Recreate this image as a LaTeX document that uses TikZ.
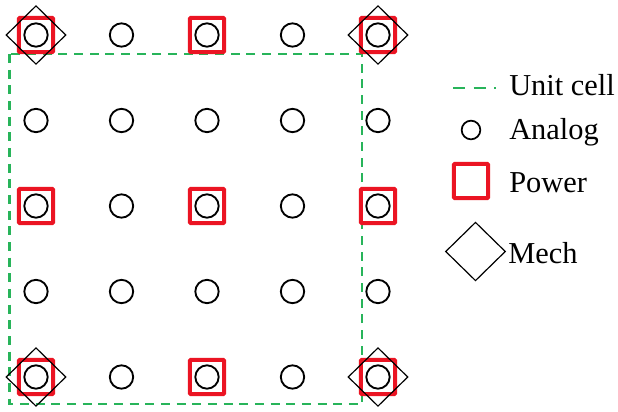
\documentclass[tikz,border=0pt]{standalone}
\usepackage{fontspec}
\setmainfont{Liberation Serif}
\usetikzlibrary{shapes.geometric}
\definecolor{pwred}{RGB}{235,20,35}
\definecolor{cellgreen}{RGB}{40,180,90}
\begin{document}
\begin{tikzpicture}[x=0.75pt,y=-0.75pt,
  analog/.style={circle,draw=black,line width=1.4pt,inner sep=0pt,minimum size=17.5pt},
  analogleg/.style={circle,draw=black,line width=1.3pt,inner sep=0pt,minimum size=14pt},
  power/.style={rectangle,draw=pwred,line width=3pt,rounded corners=0.8pt,inner sep=0pt,minimum size=25.8pt},
  mech/.style={diamond,draw=black,line width=0.9pt,inner sep=0pt,minimum width=45pt,minimum height=44pt},
  cell/.style={draw=cellgreen,line width=1.8pt,dash pattern=on 6.75pt off 5pt},
  cellleg/.style={draw=cellgreen,line width=1.8pt,dash pattern=on 9pt off 6.5pt},
  lbl/.style={anchor=base west,inner sep=0pt,font=\fontsize{22.8pt}{26pt}\selectfont}]
\useasboundingbox (0,0) rectangle (618,411);
% unit cell
\coordinate (c1) at (9.5,54);
\coordinate (c2) at (362,404);
\draw[cell] (c1) rectangle (c2);
% grid
\foreach \i in {0,...,4}{
  \foreach \j in {0,...,4}{
    \pgfmathsetmacro{\px}{36+85.5*\i}
    \pgfmathsetmacro{\py}{35+85.5*\j}
    \node[analog] (a\i\j) at (\px,\py) {};
  }
}
\foreach \i/\j in {0/0,2/0,4/0,0/2,2/2,4/2,0/4,2/4,4/4}{
  \node[power] (p\i\j) at (a\i\j) {};
}
\foreach \i/\j in {0/0,4/0,0/4,4/4}{
  \node[mech] (m\i\j) at (a\i\j) {};
}
% legend
\coordinate (l1) at (453,88);
\coordinate (l2) at (496,88);
\draw[cellleg] (l1) -- (l2);
\node[lbl] (tu) at (509,95) {Unit cell};
\node[analogleg] (la) at (471,130) {};
\node[lbl] (ta) at (509,139) {Analog};
\node[power] (lp) at (471,181) {};
\node[lbl] (tp) at (509,192) {Power};
\node[mech] (lm) at (475.5,251.5) {};
\node[lbl] (tm) at (508,263) {Mech};
\end{tikzpicture}
\end{document}
